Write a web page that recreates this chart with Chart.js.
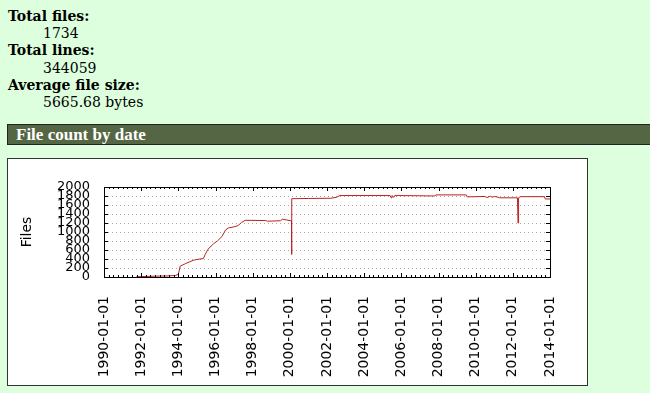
<!DOCTYPE html>
<html>
<head>
<meta charset="utf-8">
<script src="https://cdn.jsdelivr.net/npm/chart.js@4"></script>
<style>
html, body { margin: 0; padding: 0; }
body { background: #dfd; width: 650px; height: 393px; overflow: hidden; position: relative; font-family: "DejaVu Serif", serif; }
dl { position: absolute; left: 8px; top: 8px; margin: 0; font-size: 14px; line-height: 17.2px; }
dt { font-weight: bold; }
dd { margin-left: 35px; }
h2 { position: absolute; left: 7px; top: 124px; width: 700px; height: 19px; margin: 0; padding-left: 8px;
     background: #564; border: 1px solid #222; color: #fff; font: bold 17px "Liberation Serif", serif; line-height: 19px; }
.box { position: absolute; left: 7px; top: 158px; width: 579px; height: 226px; border: 1px solid #333; background: #fff; }
canvas { display: block; }
</style>
</head>
<body>
<dl>
  <dt>Total files:</dt><dd>1734</dd>
  <dt>Total lines:</dt><dd>344059</dd>
  <dt>Average file size:</dt><dd>5665.68 bytes</dd>
</dl>
<h2>File count by date</h2>
<div class="box"><canvas id="chart" width="579" height="226"></canvas></div>

<script>
// file count snapshots
const dates = [
  '1991-10-01', '1992-07-01', '1993-01-01', '1993-07-01', '1993-11-06', '1994-01-01',
  '1994-02-06', '1994-05-26', '1994-10-20', '1995-01-01', '1995-05-08', '1995-06-13',
  '1995-08-08', '1995-11-25', '1996-02-06', '1996-05-08', '1996-07-20', '1996-09-13',
  '1996-12-14', '1997-03-15', '1997-05-27', '1997-08-08', '1998-09-13', '1998-10-20',
  '1999-07-01', '1999-08-08', '1999-10-20', '2000-01-20', '2000-02-02', '2000-02-06',
  '2000-02-09', '2001-01-01', '2002-03-15', '2002-07-01', '2002-09-13', '2005-05-27',
  '2005-06-14', '2005-07-01', '2005-08-08', '2005-08-25', '2007-01-01', '2007-10-20',
  '2007-11-08', '2009-07-01', '2009-07-19', '2010-07-01', '2010-08-08', '2010-10-20',
  '2010-11-25', '2011-01-01', '2011-03-15', '2011-04-20', '2012-04-01', '2012-04-12',
  '2012-04-23', '2012-05-26', '2013-09-13', '2013-10-01', '2013-12-31'
];
const files = [
  5, 15, 20, 25, 35, 60,
  240, 300, 370, 390, 410, 500,
  620, 740, 800, 900, 1050, 1090,
  1110, 1140, 1210, 1260, 1255, 1240,
  1250, 1285, 1270, 1250, 1250, 500,
  1740, 1745, 1750, 1770, 1810, 1810,
  1760, 1810, 1770, 1810, 1805, 1800,
  1825, 1825, 1780, 1790, 1765, 1795,
  1770, 1790, 1775, 1760, 1760, 1200,
  1760, 1785, 1785, 1734, 1734
];
const xTicks = [1990, 1992, 1994, 1996, 1998, 2000, 2002, 2004, 2006, 2008, 2010, 2012, 2014];
const yTicks = [0, 200, 400, 600, 800, 1000, 1200, 1400, 1600, 1800, 2000];

function toYear(s) {
    const [y, m, d] = s.split('-').map(Number);
    const a = Date.UTC(y, 0, 1), b = Date.UTC(y + 1, 0, 1);
    return y + (Date.UTC(y, m - 1, d) - a) / (b - a);
}

// gnuplot style box with inward ticks
const frame = {
    id: 'frame',
    afterDraw(chart) {
        const { ctx, chartArea: a, scales: { x, y } } = chart;
        ctx.save();
        ctx.strokeStyle = '#000';
        ctx.lineWidth = 1;
        ctx.strokeRect(Math.round(a.left) + 0.5, Math.round(a.top) + 0.5,
            Math.round(a.right - a.left), Math.round(a.bottom - a.top));
        ctx.beginPath();
        yTicks.forEach(v => {
            const py = Math.round(y.getPixelForValue(v)) + 0.5;
            ctx.moveTo(a.left, py); ctx.lineTo(a.left + 4, py);
            ctx.moveTo(a.right, py); ctx.lineTo(a.right - 4, py);
        });
        for (let v = x.min; v <= x.max; v += 0.25) {
            const len = (v % 2 === 0) ? 4 : 2;
            const px = Math.round(x.getPixelForValue(v)) + 0.5;
            ctx.moveTo(px, a.bottom); ctx.lineTo(px, a.bottom - len);
            ctx.moveTo(px, a.top); ctx.lineTo(px, a.top + len);
        }
        ctx.stroke();
        ctx.restore();
    }
};

new Chart(document.getElementById('chart').getContext('2d'), {
    type: 'line',
    data: {
        datasets: [{
            data: dates.map((d, i) => ({ x: toYear(d), y: files[i] })),
            borderColor: 'rgb(185,35,35)',
            borderWidth: 1,
            pointRadius: 0,
            tension: 0,
            fill: false
        }]
    },
    options: {
        responsive: false,
        animation: false,
        layout: { padding: { left: 0, right: 37, top: 28, bottom: 0 } },
        plugins: { legend: { display: false }, tooltip: { enabled: false } },
        scales: {
            x: {
                type: 'linear', min: 1990, max: 2014,
                afterBuildTicks: s => { s.ticks = xTicks.map(v => ({ value: v })); },
                afterFit: s => { s.height = 108; },
                grid: { display: false },
                border: { display: false },
                ticks: {
                    autoSkip: false, maxRotation: 90, minRotation: 90, padding: 11, color: '#000',
                    font: { family: 'DejaVu Sans', size: 14 },
                    callback: v => v + '-01-01'
                }
            },
            y: {
                min: 0, max: 2000,
                afterBuildTicks: s => { s.ticks = yTicks.map(v => ({ value: v })); },
                afterFit: s => { s.width = 96; },
                grid: { color: '#aaa', drawTicks: false },
                border: { display: false, dash: [1, 3] },
                ticks: {
                    autoSkip: false, padding: 14, color: '#000',
                    font: { family: 'DejaVu Sans', size: 13 },
                    callback: v => String(v)
                },
                title: { display: true, text: 'Files', color: '#000', font: { family: 'DejaVu Sans', size: 14 }, padding: { top: 11, bottom: 0 } }
            }
        }
    },
    plugins: [frame]
});
</script>
</body>
</html>
